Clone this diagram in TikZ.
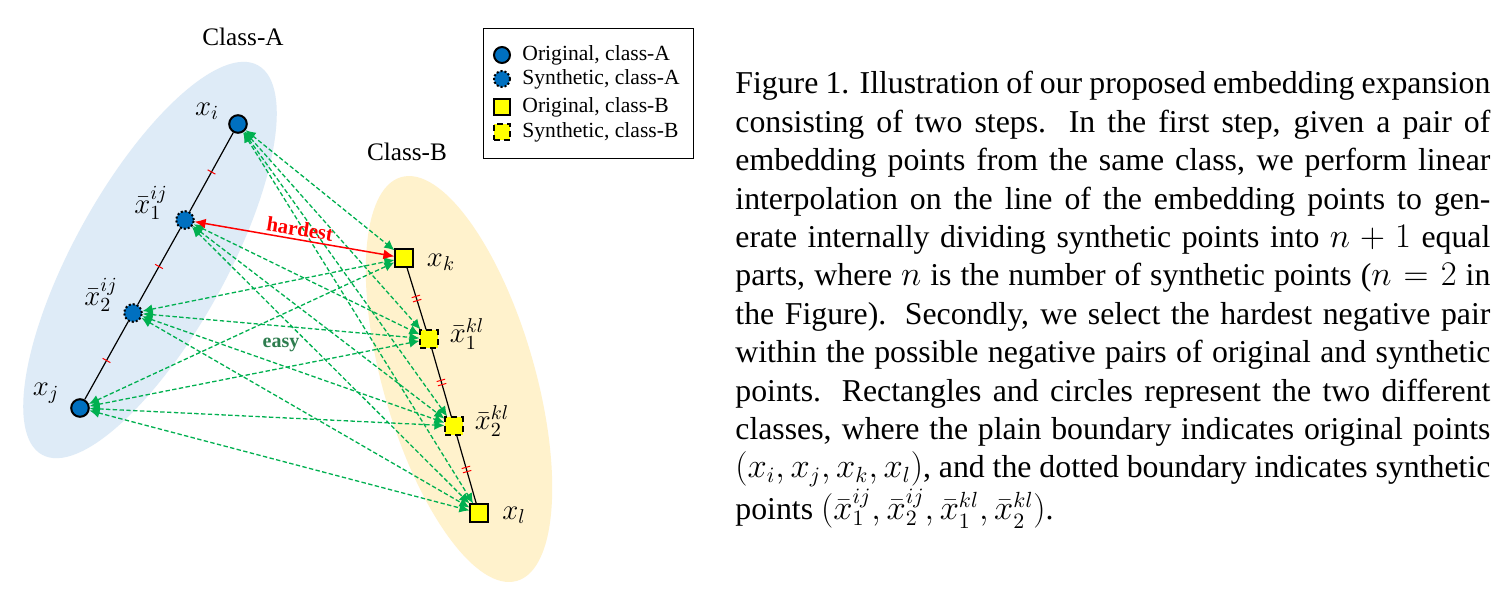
\documentclass[tikz,border=0pt]{standalone}
\usepackage{fontspec}
\setmainfont{Liberation Serif}
\usetikzlibrary{arrows.meta,decorations.markings}
\definecolor{ellA}{HTML}{DEEBF7}
\definecolor{ellB}{HTML}{FFF2CC}
\definecolor{nodeblue}{HTML}{0070C0}
\definecolor{nodeyellow}{HTML}{FFFF00}
\definecolor{easygreen}{HTML}{00B050}
\definecolor{easytext}{HTML}{2E7D4F}
\begin{document}
\begin{tikzpicture}[x=0.5pt,y=-0.5pt,
  origA/.style={circle, draw=black, line width=1pt, fill=nodeblue, minimum size=8.8pt, inner sep=0pt},
  synA/.style={origA, densely dotted},
  origB/.style={rectangle, draw=black, line width=1pt, fill=nodeyellow, minimum size=8.6pt, inner sep=0pt},
  synB/.style={origB, densely dashed},
  legA/.style={origA, minimum size=8pt},
  legSA/.style={legA, densely dotted},
  legB/.style={origB, minimum size=8.2pt},
  legSB/.style={legB, densely dashed},
  lbl/.style={inner sep=0pt, font=\fontsize{14}{16}\selectfont},
  legtxt/.style={anchor=west, inner sep=0pt, font=\fontsize{10.8}{12}\selectfont},
  mainline/.style={draw=black, line width=0.6pt},
  tickone/.style={postaction={decorate, decoration={markings,
      mark=at position 0.5 with {\draw[red, line width=0.5pt] (0,-2.2pt) -- (0,2.2pt);}}}},
  ticktwo/.style={postaction={decorate, decoration={markings,
      mark=at position 0.5 with {\draw[red, line width=0.5pt] (-1.1pt,-2.2pt) -- (-1.1pt,2.2pt) (1.1pt,-2.2pt) -- (1.1pt,2.2pt);}}}},
  easyarrow/.style={draw=easygreen, line width=0.65pt, dash pattern=on 2.2pt off 1.2pt,
      {Latex[length=5pt,width=4.8pt,fill=easygreen]}-{Latex[length=5pt,width=4.8pt,fill=easygreen]}},
  hardarrow/.style={draw=red, line width=0.75pt,
      {Latex[length=5.5pt,width=5pt]}-{Latex[length=5.5pt,width=5pt]}}
]
\useasboundingbox (0,0) rectangle (1502,596);
\fill[white] (0,0) rectangle (1502,596);

% class regions
\fill[ellA, rotate around={61:(150,260)}] (150,260) ellipse (222.6 and 76);
\fill[ellB, rotate around={106:(459,379)}] (459,379) ellipse (210 and 76);

% class labels
\node[inner sep=0pt, font=\fontsize{12.6}{14}\selectfont] (ca) at (243,37) {Class-A};
\node[inner sep=0pt, font=\fontsize{12.6}{14}\selectfont] (cb) at (407,152) {Class-B};

% points
\node[origA] (xi) at (238,124) {};
\node[synA]  (a1) at (185,220) {};
\node[synA]  (a2) at (133,313) {};
\node[origA] (xj) at (80,408) {};
\node[origB] (xk) at (404,258) {};
\node[synB]  (b1) at (429,339) {};
\node[synB]  (b2) at (454,426) {};
\node[origB] (xl) at (479,513) {};

% point labels
\node[lbl] (lxi) at (207,111) {$x_i$};
\node[lbl] (la1) at (151,203) {$\bar{x}^{ij}_1$};
\node[lbl] (la2) at (101,295) {$\bar{x}^{ij}_2$};
\node[lbl] (lxj) at (46,393) {$x_j$};
\node[lbl] (lxk) at (441,262) {$x_k$};
\node[lbl] (lb1) at (467,334) {$\bar{x}^{kl}_1$};
\node[lbl] (lb2) at (492,421) {$\bar{x}^{kl}_2$};
\node[lbl] (lxl) at (514,515) {$x_l$};

% interpolation lines
\draw[mainline, tickone] (xi) -- (a1);
\draw[mainline, tickone] (a1) -- (a2);
\draw[mainline, tickone] (a2) -- (xj);
\draw[mainline, ticktwo] (xk) -- (b1);
\draw[mainline, ticktwo] (b1) -- (b2);
\draw[mainline, ticktwo] (b2) -- (xl);

% negative pairs
\foreach \a/\b in {xi/xk, xi/b1, xi/b2, xi/xl,
                   a1/b1, a1/b2, a1/xl,
                   a2/xk, a2/b1, a2/b2, a2/xl,
                   xj/xk, xj/b1, xj/b2, xj/xl}
  \draw[easyarrow] (\a) -- (\b);
\draw[hardarrow] (a1) -- (xk);

\node[inner sep=0pt, text=red, rotate=-9, font=\fontsize{10.4}{12}\selectfont\bfseries] (hard) at (300,229) {hardest};
\node[inner sep=0pt, text=easytext, font=\fontsize{10}{12}\selectfont\bfseries] (easy) at (281,345) {easy};

% legend
\node[draw=black, line width=0.6pt, anchor=north west, minimum width=105pt, minimum height=65pt, inner sep=0pt] (leg) at (483,28) {};
\node[legA]  (l1) at (502,55) {};
\node[legSA] (l2) at (502,79) {};
\node[legB]  (l3) at (502,107) {};
\node[legSB] (l4) at (502,132) {};
\node[legtxt] (t1) at (522,55) {Original, class-A};
\node[legtxt] (t2) at (522,79) {Synthetic, class-A};
\node[legtxt] (t3) at (522,107) {Original, class-B};
\node[legtxt] (t4) at (522,132) {Synthetic, class-B};

% caption
\node[anchor=north west, inner sep=0pt, text width=377.5pt, align=justify,
      font=\fontsize{15.9}{19.2}\selectfont] (cap) at (735,71) {%
Figure 1. Illustration of our proposed embedding expansion\linebreak
consisting of two steps.  In the first step, given a pair of\linebreak
embedding points from the same class, we perform linear\linebreak
interpolation on the line of the embedding points to gen-\linebreak
erate internally dividing synthetic points into $n+1$ equal\linebreak
parts, where $n$ is the number of synthetic points ($n=2$ in\linebreak
the Figure).  Secondly, we select the hardest negative pair\linebreak
within the possible negative pairs of original and synthetic\linebreak
points.  Rectangles and circles represent the two different\linebreak
classes, where the plain boundary indicates original points\linebreak
$(x_i,x_j,x_k,x_l)$, and the dotted boundary indicates synthetic\linebreak
points $(\bar{x}^{ij}_1,\bar{x}^{ij}_2,\bar{x}^{kl}_1,\bar{x}^{kl}_2)$.};
\end{tikzpicture}
\end{document}
